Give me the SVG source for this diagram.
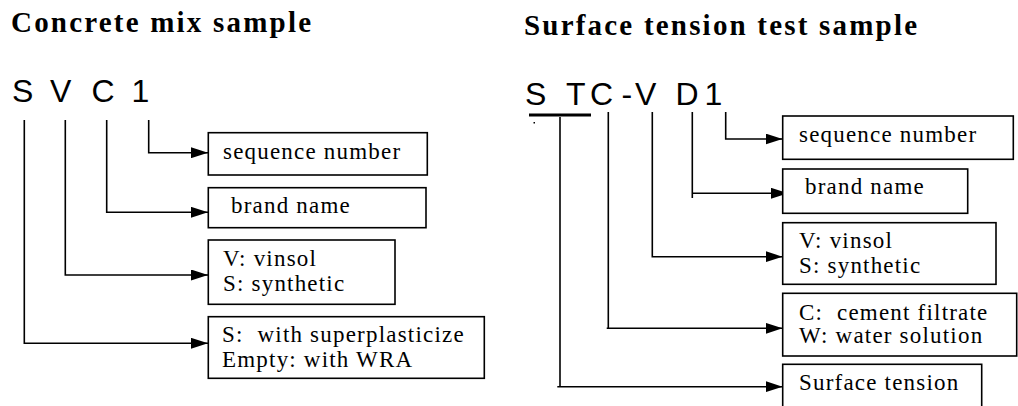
<svg xmlns="http://www.w3.org/2000/svg" width="1018" height="406" viewBox="0 0 1018 406">
<style>
.title{font-family:"Liberation Serif","Times New Roman",serif;font-weight:bold;font-size:29px;letter-spacing:2.2px;fill:#000}
.code{font-family:"Liberation Sans",Arial,sans-serif;font-size:32px;fill:#000}
.lbl{font-family:"Liberation Serif","Times New Roman",serif;font-size:23px;letter-spacing:1.2px;fill:#000}
.box{fill:#fff;stroke:#000;stroke-width:1.6}
.con{fill:none;stroke:#000;stroke-width:1.6}
</style>
<defs>
<marker id="arr" markerUnits="userSpaceOnUse" markerWidth="17" markerHeight="11" refX="17" refY="5.5" orient="auto">
<path d="M0,0 L17,5.5 L0,11 z" fill="#000"/>
</marker>
</defs>
<rect width="1018" height="406" fill="#fff"/>

<g id="left-header">
<text class="title" x="11" y="32">Concrete mix sample</text>
<text class="code" x="12 33 50 71 91.5 114 131.5" y="102">S V C 1</text>
</g>
<g id="right-header">
<text class="title" x="524" y="35">Surface tension test sample</text>
<text class="code" x="525 546 566 590 621.5 635 657 675.5 704.5" y="105">S TC-V D1</text>
<rect x="529" y="113.5" width="62" height="3" fill="#000"/>
<rect x="533.5" y="122" width="1.5" height="1.5" fill="#000"/>
</g>

<g id="connectors">
<path class="con" d="M148.7,120 V152.7 H208" marker-end="url(#arr)"/>
<path class="con" d="M106.7,120 V212.3 H208" marker-end="url(#arr)"/>
<path class="con" d="M65.3,120 V275 H208" marker-end="url(#arr)"/>
<path class="con" d="M24.3,120 V343.3 H208" marker-end="url(#arr)"/>

<path class="con" d="M725.7,112 V139 H782.5" marker-end="url(#arr)"/>
<path class="con" d="M692.3,112 V198"/>
<path class="con" d="M692.3,193.3 H788" marker-end="url(#arr)"/>
<path class="con" d="M652.3,112 V256.7 H782.5" marker-end="url(#arr)"/>
<path class="con" d="M608.3,112 V328.3"/>
<path class="con" d="M606.7,328.3 H782.5" marker-end="url(#arr)"/>
<path class="con" d="M560,117 V386.7"/>
<path class="con" d="M557.3,386.7 H782.5" marker-end="url(#arr)"/>
</g>

<g id="l-seq"><rect class="box" x="208.3" y="132.7" width="219" height="42.3"/><text class="lbl" x="223" y="159">sequence number</text></g>
<g id="l-brand"><rect class="box" x="208.3" y="187.7" width="217.7" height="40"/><text class="lbl" x="231" y="213">brand name</text></g>
<g id="l-type"><rect class="box" x="208.3" y="240" width="186.7" height="64.3"/><text class="lbl" x="223" y="266">V: vinsol</text><text class="lbl" x="223" y="290.5">S: synthetic</text></g>
<g id="l-sp"><rect class="box" x="208.3" y="316.7" width="276" height="61.6"/><text class="lbl" x="222" y="341.5">S:&#160; with superplasticize</text><text class="lbl" x="222" y="366.5">Empty: with WRA</text></g>

<g id="r-seq"><rect class="box" x="782.7" y="116" width="230.6" height="43.3"/><text class="lbl" x="799" y="142">sequence number</text></g>
<g id="r-brand"><rect class="box" x="782.7" y="169" width="185" height="44.3"/><text class="lbl" x="805" y="194.3">brand name</text></g>
<g id="r-type"><rect class="box" x="782.7" y="222.7" width="213.3" height="61.6"/><text class="lbl" x="799" y="248.3">V: vinsol</text><text class="lbl" x="799" y="272.7">S: synthetic</text></g>
<g id="r-sol"><rect class="box" x="782.7" y="293.3" width="234" height="62.7"/><text class="lbl" x="799" y="320">C:&#160; cement filtrate</text><text class="lbl" x="799" y="343.3">W: water solution</text></g>
<g id="r-st"><rect class="box" x="782.7" y="364.3" width="199" height="60"/><text class="lbl" x="799" y="390">Surface tension</text></g>
</svg>
